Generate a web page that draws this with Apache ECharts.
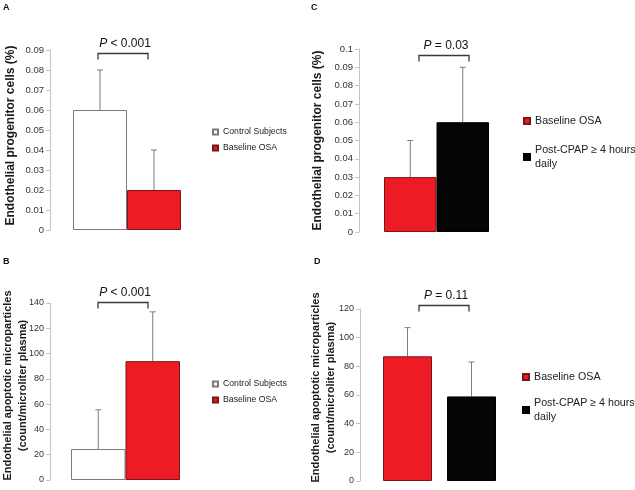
<!DOCTYPE html>
<html>
<head>
<meta charset="utf-8">
<script src="https://cdn.jsdelivr.net/npm/echarts@6/dist/echarts.min.js"></script>
<style>
html, body { margin: 0; padding: 0; background: #fff; }
#chart { width: 635px; height: 490px; }
</style>
</head>
<body>
<div id="chart"></div>
<script>
// groups
var groupsAB = ["Control Subjects", "Baseline OSA"];
var groupsCD = ["Baseline OSA", "Post-CPAP \u2265 4 hours daily"];

// A: endothelial progenitor cells (%)
var epcMeanA = [0.06, 0.02];
var epcUpperA = [0.08, 0.04];
// B: apoptotic microparticles
var empMeanB = [24.5, 94];
var empUpperB = [55.5, 133];
// C: progenitor cells, before / after CPAP
var epcMeanC = [0.03, 0.06];
var epcUpperC = [0.05, 0.09];
// D: microparticles, before / after CPAP
var empMeanD = [87, 59];
var empUpperD = [107, 83];

// axis ranges
var axisMax = [0.09, 140, 0.1, 120];
var axisStep = [0.01, 20, 0.01, 20];

// significance
var pLabels = ["< 0.001", "< 0.001", "= 0.03", "= 0.11"];
var bracketLevel = [0.0885, 140.8, 0.0967, 122.8];

var FONT = "'Liberation Sans', Arial, sans-serif";
var RED = "#ED1C24";

var panels = [
  { letter: "A", grid: { left: 50, top: 50, width: 154, height: 180 },
    names: groupsAB, mean: epcMeanA, upper: epcUpperA,
    colors: ["#ffffff", RED], borders: ["#7a7a7a", "#7a1518"],
    barW: 54, gapPx: 0, yName: "Endothelial progenitor cells (%)", nameSize: 12, nameGap: 32, nameShift: 9, tickSize: 9.5,
    legend: { left: 212, top: 126.5, gap: 5, size: 8.7, icon: 5, lh: 11 }, br: [-29, 21], letterPos: [3, 3] },
  { letter: "B", grid: { left: 50, top: 303, width: 151, height: 177 },
    names: groupsAB, mean: empMeanB, upper: empUpperB,
    colors: ["#ffffff", RED], borders: ["#7a7a7a", "#7a1518"],
    barW: 54.5, gapPx: 0, yName: "Endothelial apoptotic microparticles\n(count/microliter plasma)", nameSize: 11, nameGap: 20, nameShift: 12, tickSize: 9,
    legend: { left: 212, top: 378.5, gap: 5, size: 8.7, icon: 5, lh: 11 }, br: [-27.5, 22.5], letterPos: [3, 257] },
  { letter: "C", grid: { left: 359, top: 49, width: 155, height: 183 },
    names: groupsCD, mean: epcMeanC, upper: epcUpperC,
    colors: [RED, "#050505"], borders: ["#7a1518", "#000000"],
    barW: 52.5, gapPx: 0, yName: "Endothelial progenitor cells (%)", nameSize: 12, nameGap: 34, nameShift: 0, tickSize: 9.5,
    legend: { left: 523, top: 114, gap: 8, size: 10.7, icon: 6, lh: 14 }, br: [-17.5, 32.5], letterPos: [311, 3] },
  { letter: "D", grid: { left: 360, top: 309, width: 159, height: 172 },
    names: groupsCD, mean: empMeanD, upper: empUpperD,
    colors: [RED, "#050505"], borders: ["#7a1518", "#000000"],
    barW: 49, gapPx: 15, yName: "Endothelial apoptotic microparticles\n(count/microliter plasma)", nameSize: 11, nameGap: 22, nameShift: 15, tickSize: 9,
    legend: { left: 522, top: 370, gap: 5, size: 10.7, icon: 6, lh: 14 }, br: [-20.5, 29.5], letterPos: [314, 257] }
];

var series = [];
panels.forEach(function (p, i) {
  p.names.forEach(function (name, k) {
    series.push({
      name: name,
      type: "bar",
      xAxisIndex: i,
      yAxisIndex: i,
      data: [p.mean[k]],
      barWidth: p.barW,
      barGap: (p.gapPx / p.barW * 100) + "%",
      itemStyle: { color: p.colors[k], borderColor: p.borders[k], borderWidth: 1 },
      emphasis: { disabled: true }
    });
  });
  // error bars (upper only)
  series.push({
    type: "custom",
    xAxisIndex: i,
    yAxisIndex: i,
    z: 1,
    silent: true,
    data: p.mean.map(function (m, k) { return [0, m, p.upper[k], k]; }),
    encode: { x: 0, y: [1, 2] },
    renderItem: function (params, api) {
      var k = api.value(3);
      var base = api.coord([0, api.value(1)]);
      var top = api.coord([0, api.value(2)]);
      var x = base[0] + (k - 0.5) * (p.barW + p.gapPx);
      var st = { stroke: "#7d7d7d", lineWidth: 1 };
      return { type: "group", children: [
        { type: "line", shape: { x1: x, y1: base[1], x2: x, y2: top[1] }, style: st },
        { type: "line", shape: { x1: x - 3, y1: top[1], x2: x + 3, y2: top[1] }, style: st }
      ]};
    }
  });
  // significance bracket
  series.push({
    type: "custom",
    xAxisIndex: i,
    yAxisIndex: i,
    silent: true,
    data: [[0, bracketLevel[i]]],
    encode: { x: 0, y: 1 },
    renderItem: function (params, api) {
      var c = api.coord([0, api.value(1)]);
      var x1 = c[0] + p.br[0], x2 = c[0] + p.br[1], y = Math.round(c[1]) + 0.5;
      return { type: "group", children: [
        { type: "polyline", shape: { points: [[x1, y + 6], [x1, y], [x2, y], [x2, y + 6]] },
          style: { stroke: "#3a3a3a", lineWidth: 1.3, fill: null } },
        { type: "text", x: (x1 + x2) / 2 + 2, y: y - 10,
          style: { text: "{i|P} " + pLabels[i], fill: "#111", font: "12px " + FONT,
                   align: "center", verticalAlign: "middle",
                   rich: { i: { fontStyle: "italic", fontSize: 12, fontFamily: FONT, fill: "#111" } } } }
      ]};
    }
  });
});

var option = {
  animation: false,
  backgroundColor: "#fff",
  textStyle: { fontFamily: FONT },
  grid: panels.map(function (p) {
    return Object.assign({ outerBoundsMode: "none", containLabel: false }, p.grid);
  }),
  xAxis: panels.map(function (p, i) {
    return { type: "category", gridIndex: i, data: [""], show: false };
  }),
  yAxis: panels.map(function (p, i) {
    return {
      type: "value", gridIndex: i, min: 0, max: axisMax[i], interval: axisStep[i],
      name: p.yName, nameLocation: "middle", nameRotate: 90, nameGap: p.nameGap, nameMoveOverlap: false,
      nameTextStyle: { fontFamily: FONT, fontWeight: "bold", fontSize: p.nameSize, color: "#1a1a1a",
                       lineHeight: 15, align: "center", padding: [0, 0, 0, p.nameShift] },
      axisLine: { show: true, lineStyle: { color: "#c4c4c4", width: 1 } },
      axisTick: { show: true, length: 4, lineStyle: { color: "#c4c4c4" } },
      splitLine: { show: false },
      axisLabel: { fontFamily: FONT, fontSize: p.tickSize, color: "#333", margin: 6 }
    };
  }),
  legend: panels.map(function (p) {
    return {
      orient: "vertical", left: p.legend.left, top: p.legend.top, padding: 0,
      itemGap: p.legend.gap, itemWidth: p.legend.icon, itemHeight: p.legend.icon, icon: "rect",
      selectedMode: false,
      formatter: function (n) { return n.replace(" daily", "\ndaily"); },
      textStyle: { fontFamily: FONT, fontSize: p.legend.size, color: "#222", lineHeight: p.legend.lh },
      data: p.names.map(function (n) {
        return n.indexOf("daily") >= 0 ? { name: n, textStyle: { padding: [14, 0, 0, 0] } } : { name: n };
      })
    };
  }),
  graphic: panels.map(function (p) {
    return { type: "text", left: p.letterPos[0], top: p.letterPos[1],
      style: { text: p.letter, font: "bold 9px " + FONT, fill: "#111" } };
  }),
  series: series
};

var chart = echarts.init(document.getElementById("chart"), null, { renderer: "canvas" });
chart.setOption(option);
</script>
</body>
</html>
